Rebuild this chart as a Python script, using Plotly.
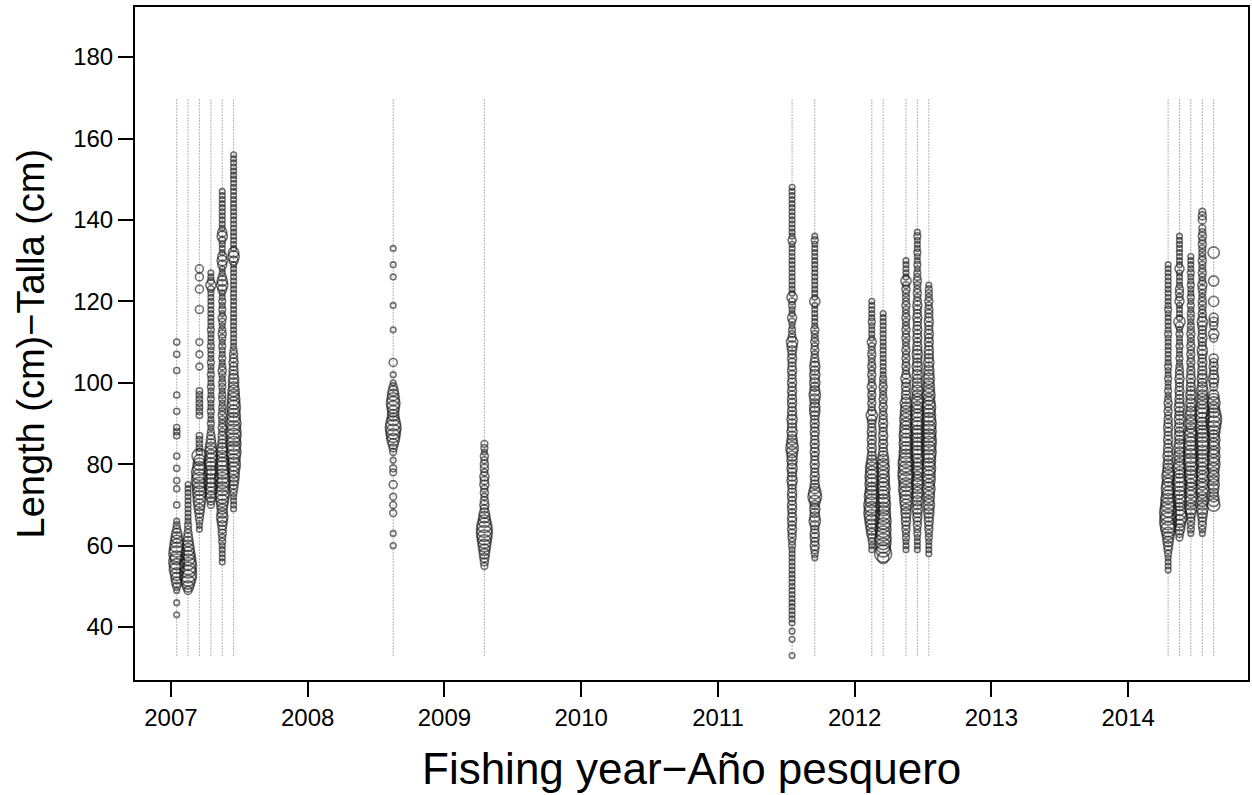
import plotly.graph_objects as go

# Sampling times (fishing year, decimal)
sample_time = [2007.042, 2007.125, 2007.208, 2007.292, 2007.375, 2007.458,
               2008.625, 2009.292,
               2011.542, 2011.708,
               2012.125, 2012.208, 2012.375, 2012.458, 2012.542,
               2014.292, 2014.375, 2014.458, 2014.542, 2014.625]

# first length (cm) of each sample's consecutive 1-cm bins
len_start = [43, 49, 64, 70, 56, 69, 60, 55, 33, 57, 59, 57, 59, 59, 58, 54, 62, 63, 63, 70]

# proportion (%) at each 1-cm length, starting at len_start
s01 = [0.7,0,0,0.7,0,0,1.1,2.2,3.6,4.4, 5.4,7.5,7.5,8.7,6.4,8.7,7.5,6.4,5.4,4.4,
       3.6,2.2,1.6,1.1,0,0,0,1.3,0,0, 0,1.3,0,1.3,0,0,1.3,0,0,1.3,
       0,0,0,0,1.3,1.3,1.3,0,0,0, 1.3,0,0,0,1.3,0,0,0,0,0, 1.3,0,0,0,1.3,0,0,1.3]
s02 = [2.2,4.4,6.4,8.7,10,8.7,10,8.7,7.5,6.4, 5.4,4.4,3.6,2.8,2.2,1.6,1.6,1.1,1.1,0.7,
       0.7,0.7,0.5,0.5,0.4,0.4,0.4]
s03 = [0.7,1.1,1.6,2.2,2.8,3.6,4.4,5.4,5.4,6.4, 6.4,7.5,8.7,7.5,8.7,6.4,5.4,4.4,7.5,1.4,
       1.4,1.4,1.4,1.4,0,0,0,0,1.4,1.4, 1.4,1.4,1.4,1.4,1.4,0,0,0,0,0,
       1.6,0,0,1.6,0,0,1.6,0,0,0, 0,0,0,0,2.2,0,0,0,0,2.2, 0,0,2.2,0,2.2]
s04 = [1.6,2.2,3.6,4.4,5.4,6.4,6.4,7.5,6.4,6.4, 5.4,6.4,5.4,5.4,4.4,3.6,2.8,2.2,1.6,1.1,
       1.6,1.1,1.1,1.6,1.1,1.1,1.6,1.1,1.1,1.6, 1.1,1.1,1.6,1.1,1.1,1.6,1.1,1.1,1.1,1.6,
       1.1,1.1,1.1,1.6,1.1,1.1,1.1,1.1,1.1,1.1, 1.1,1.1,1.1,1.6,3.6,1.6,1.1,1.1]
s05 = [0.5,0.7,0.7,1.1,1.1,1.6,1.6,2.2,2.2,2.8, 3.6,4.4,3.6,3.6,4.4,5.4,6.4,7.5,6.4,7.5,
       8.7,7.5,6.4,7.5,6.4,5.4,4.4,4.4,3.6,2.8, 2.2,2.2,1.6,2.2,1.6,1.6,2.2,1.6,1.6,1.1,
       1.6,1.6,1.1,1.6,1.6,1.1,1.6,2.2,1.6,1.1, 1.6,1.1,1.1,1.6,1.1,1.6,2.2,1.6,1.1,1.6,
       2.2,1.1,1.6,1.1,1.6,1.1,1.1,2.8,4.4,3.6, 2.2,1.1,1.1,2.8,3.6,2.8,1.1,0.7,0.7,1.6,
       3.6,2.8,1.1,0.7,0.7,0.7,1.1,0.7,0.7,1.1, 0.4,0.4]
s06 = [0.7,0.7,1.1,1.1,1.6,2.2,2.8,3.6,4.4,4.4, 5.4,6.4,5.4,6.4,7.5,6.4,7.5,6.4,7.5,7.5,
       6.4,7.5,6.4,6.4,5.4,6.4,5.4,5.4,4.4,4.4, 3.6,3.6,3.6,2.8,2.8,2.2,2.8,2.2,2.2,1.6,
       1.1,1.1,0.7,1.1,0.7,1.1,1.1,0.7,1.1,0.7, 1.1,0.7,0.7,1.1,0.7,0.7,1.1,0.7,0.7,1.1,
       1.1,2.8,4.4,3.6,1.1,0.7,0.7,1.1,0.7,0.7, 0.7,0.4,0.7,0.4,0.4,0.7,0.4,0.4,0.7,0.4,
       0.4,0.4,0.4,0.4,0.4,0.4,0.4,0.4]
s07 = [1.1,0,0,1.1,0,0,0,0,1.6,0, 1.6,0,1.6,0,0,2.2,0,0,1.6,1.6,
       0,1.1,0,1.6,2.2,3.6,5.4,6.4,7.5,8.7, 7.5,5.4,4.4,4.4,5.4,6.4,5.4,4.4,3.6,2.2,
       1.1,0,1.1,0,0,2.2,0,0,0,0, 0,0,0,0.7,0,0,0,0,0,0.7, 0,0,0,0,0,0,0.7,0,0,0.7, 0,0,0,0.7]
s08 = [1.6,2.2,2.8,3.6,4.4,5.4,6.4,7.5,8.7,8.7, 7.5,5.4,4.4,3.6,2.2,2.8,2.2,1.6,2.2,1.6,
       2.8,2.2,2.8,1.6,2.2,2.2,1.6,2.2,1.1,1.6, 1.6]
s09 = [0.5,0,0,0,0.3,0,0.3,0,0.3,0.3, 0.3,0.3,0.3,0.3,0.3,0.4,0.3,0.4,0.4,0.4,
       0.5,0.7,0.7,0.7,1.1,1.1,1.1,1.6,1.6,2.2, 2.2,2.8,2.2,2.8,2.8,2.2,2.8,2.8,2.2,2.8,
       2.8,2.2,2.8,3.6,2.8,2.8,3.6,2.8,3.6,3.6, 4.4,5.4,4.4,3.6,2.8,3.6,2.8,2.8,3.6,2.8,
       2.8,2.2,2.8,2.8,2.2,2.8,2.2,2.8,2.2,2.2, 2.8,2.2,2.2,2.8,2.2,2.8,3.6,4.4,2.2,1.6,
       1.6,1.1,1.6,2.8,1.1,1.1,1.6,1.6,3.6,1.1, 1.1,0.7,1.1,0.7,0.7,0.7,1.1,0.7,0.7,0.7,
       0.7,1.1,2.2,0.7,0.4,0.4,0.7,0.4,0.4,0.4, 0.4,0.4,0.3,0.3,0.3,0.3]
s10 = [1.1,1.6,2.2,2.8,2.2,2.8,2.8,2.2,2.8,4.4, 3.6,2.8,3.6,2.8,4.4,6.4,5.4,3.6,2.8,2.2,
       2.8,2.2,2.2,2.8,2.2,2.2,2.8,2.2,2.8,2.2, 2.2,2.8,2.2,2.8,2.2,2.8,3.6,3.6,2.8,3.6,
       4.4,3.6,2.8,3.6,2.8,3.6,2.8,3.6,2.8,2.2, 1.6,2.2,1.6,2.2,1.6,1.6,2.2,0.7,0.7,0.7,
       0.7,0.7,0.7,3.6,0.7,0.7,1.1,0.7,0.7,1.1, 0.7,0.7,1.1,0.7,0.7,1.1,1.1,0.7,1.6,0.7]
s11 = [0.7,1.1,1.6,2.2,3.6,4.4,5.4,6.4,7.5,8.7, 7.5,8.7,6.4,7.5,6.4,5.4,6.4,5.4,6.4,5.4,
       5.4,4.4,3.6,2.8,2.2,2.8,2.2,2.8,2.2,2.8, 2.2,2.2,2.8,4.4,2.2,1.6,2.2,1.6,2.2,1.6,
       2.8,1.6,1.6,2.2,1.6,2.2,1.6,1.6,2.2,1.6, 1.6,2.8,1.1,1.1,1.1,1.1,1.6,1.1,1.1,1.1,
       0.7,0.7]
s12 = [4.4,10,7.5,7.5,8.7,8.7,7.5,8.7,7.5,8.7, 7.5,7.5,6.4,7.5,6.4,6.4,5.4,6.4,5.4,5.4,
       5.4,4.4,5.4,4.4,4.4,3.6,2.8,2.2,2.8,2.2, 2.8,2.2,2.2,2.8,2.2,2.2,1.6,2.2,1.6,2.2,
       1.6,1.6,2.2,1.6,1.6,0.7,0.5,0.5,0.5,0.5, 0.5,0.5,0.5,0.5,0.7,0.5,0.5,0.5,0.7,0.5, 0.5]
s13 = [0.7,1.1,1.1,1.6,1.6,2.2,2.2,2.8,2.8,3.6, 3.6,4.4,5.4,5.4,6.4,7.5,6.4,7.5,8.7,8.7,
       7.5,8.7,7.5,6.4,6.4,5.4,6.4,5.4,6.4,5.4, 5.4,4.4,5.4,4.4,4.4,3.6,4.4,2.8,2.8,2.2,
       2.8,2.2,3.6,2.2,1.6,2.2,1.6,2.2,1.6,2.2, 1.6,1.6,2.2,1.6,2.2,1.6,1.6,2.2,1.6,1.6,
       2.2,1.6,1.6,1.6,2.2,1.6,3.6,1.1,0.7,0.7, 0.7,1.1]
s14 = [0.7,0.7,1.1,1.1,1.6,1.6,2.2,2.2,2.8,2.8, 3.6,2.8,3.6,3.6,4.4,3.6,4.4,4.4,3.6,4.4,
       5.4,4.4,5.4,6.4,5.4,6.4,5.4,6.4,6.4,5.4, 6.4,5.4,6.4,5.4,5.4,4.4,5.4,4.4,3.6,4.4,
       3.6,3.6,2.8,3.6,2.8,3.6,2.8,2.8,3.6,2.8, 2.8,2.2,2.8,2.2,2.8,2.2,2.2,2.8,2.2,2.2,
       2.8,2.2,1.6,2.2,1.6,1.6,2.2,1.6,1.6,1.1, 1.6,1.1,1.1,1.6,1.1,1.1,1.1,1.6,1.1]
s15 = [0.7,0.7,1.1,1.1,1.6,1.6,2.2,2.2,2.8,2.8, 3.6,3.6,4.4,3.6,4.4,4.4,5.4,4.4,5.4,5.4,
       5.4,6.4,5.4,6.4,6.4,7.5,6.4,7.5,7.5,6.4, 7.5,6.4,7.5,6.4,6.4,5.4,6.4,5.4,4.4,5.4,
       4.4,4.4,3.6,4.4,3.6,3.6,2.8,3.6,2.8,2.8, 2.8,2.2,2.8,2.2,2.8,2.2,2.2,2.8,2.2,2.2,
       2.2,1.6,2.2,1.6,1.6,1.6,1.1]
s16 = [0.5,0.7,0.7,1.1,1.6,2.2,2.8,3.6,4.4,5.4, 7.5,8.7,10,8.7,10,8.7,7.5,7.5,6.4,5.4,
       6.4,5.4,4.4,5.4,4.4,3.6,3.6,2.8,3.6,2.8, 2.8,2.2,2.8,2.2,2.2,2.8,2.2,2.2,1.6,2.2,
       1.6,2.2,1.6,1.1,1.6,1.1,1.1,1.6,1.1,1.1, 1.6,1.1,1.1,0.7,1.1,1.1,0.7,1.1,1.6,1.1,
       0.7,1.1,0.7,1.1,1.6,1.1,0.7,1.1,0.7,0.7, 1.1,0.7,0.7,0.7,0.4,0.4]
s17 = [1.6,2.2,3.6,4.4,5.4,7.5,6.4,5.4,4.4,5.4, 6.4,5.4,6.4,7.5,6.4,5.4,4.4,5.4,4.4,3.6,
       4.4,3.6,4.4,3.6,2.8,3.6,2.8,3.6,2.8,3.6, 2.8,2.8,3.6,2.8,2.8,2.2,2.8,2.2,2.2,2.8,
       2.2,2.2,1.6,1.1,1.6,1.1,1.1,1.6,1.1,1.1, 1.6,1.1,2.2,4.4,1.1,1.1,1.1,1.1,2.8,1.6,
       2.2,2.2,1.1,1.1,1.1,1.1,2.8,0.7,0.7,1.1, 1.1,1.1,1.1,1.1,1.1]
s18 = [1.1,1.6,1.6,2.2,2.2,3.6,4.4,3.6,4.4,5.4, 4.4,5.4,4.4,5.4,6.4,5.4,6.4,7.5,6.4,7.5,
       6.4,7.5,6.4,5.4,6.4,4.4,3.6,4.4,3.6,4.4, 3.6,2.8,3.6,2.8,3.6,2.8,2.8,2.2,2.8,2.2,
       2.2,1.6,2.2,1.6,2.2,1.6,2.2,1.6,1.6,2.2, 1.6,1.6,1.1,1.6,1.6,1.1,1.6,1.1,1.6,1.1,
       1.1,1.6,1.1,1.1,1.6,1.1,1.1,1.1,1.1]
s19 = [1.1,1.6,2.2,2.2,2.8,3.6,4.4,3.6,4.4,3.6, 4.4,5.4,4.4,5.4,4.4,5.4,4.4,5.4,6.4,5.4,
       6.4,7.5,6.4,7.5,6.4,5.4,6.4,5.4,6.4,7.5, 6.4,5.4,4.4,4.4,3.6,4.4,3.6,2.8,3.6,2.8,
       2.8,2.2,2.8,2.2,2.8,3.6,2.2,2.2,2.8,2.2, 2.2,2.8,3.6,2.2,2.2,1.6,2.2,2.2,1.6,1.6,
       2.2,2.8,1.6,1.6,2.2,1.6,1.6,2.2,1.6,1.6, 1.6,2.2,1.6,2.2,1.6,1.6,0,2.2,2.2,1.6]
s20 = [5.4,4.4,3.6,2.8,3.6,4.4,3.6,4.4,3.6,4.4, 5.4,4.4,5.4,4.4,5.4,4.4,5.4,4.4,5.4,6.4,
       7.5,8.7,7.5,5.4,4.4,5.4,4.4,3.6,0,2.2, 2.8,3.6,2.8,2.2,2.8,2.2,2.8,0,0,0,
       0,2.2,3.6,0,2.2,2.8,2.8,0,0,0, 3.6,0,0,0,0,3.6,0,0,0,0, 0,0,4.4]

props = [s01, s02, s03, s04, s05, s06, s07, s08, s09, s10,
         s11, s12, s13, s14, s15, s16, s17, s18, s19, s20]

# range of the sampling guide lines (cm)
guide_len = [33, 170]

x_ticks = [2007, 2008, 2009, 2010, 2011, 2012, 2013, 2014]
y_ticks = [40, 60, 80, 100, 120, 140, 160, 180]

FONT = "Liberation Sans, Arial, sans-serif"

fig = go.Figure()

# dotted guide lines at each sampling time
for t in sample_time:
    fig.add_trace(go.Scatter(
        x=[t, t], y=guide_len, mode="lines",
        line=dict(color="rgba(90,90,90,0.9)", width=1, dash="1px,2px"),
        hoverinfo="skip", showlegend=False))

# bubbles
xs, ys, vs = [], [], []
for t, l0, p in zip(sample_time, len_start, props):
    for i, v in enumerate(p):
        if v > 0:
            xs.append(t)
            ys.append(l0 + i)
            vs.append(v)

vmax = 10.0
dmax = 17.0
fig.add_trace(go.Scatter(
    x=xs, y=ys, mode="markers",
    marker=dict(symbol="circle-open", size=vs, sizemode="area",
                sizeref=2 * vmax / dmax ** 2, sizemin=2.8,
                color="rgba(25,25,25,0.88)", line=dict(width=1.6)),
    showlegend=False, hoverinfo="x+y"))

axis_common = dict(showline=True, linecolor="black", linewidth=2, mirror=True,
                   ticks="outside", ticklen=15, tickwidth=2, tickcolor="black",
                   showgrid=False, zeroline=False,
                   tickfont=dict(family=FONT, size=24, color="black"))

fig.update_xaxes(range=[2006.737, 2014.876], tickvals=x_ticks,
                 ticktext=[str(v) for v in x_ticks], **axis_common)
fig.update_yaxes(range=[27.0, 192.3], tickvals=y_ticks,
                 ticktext=[str(v) for v in y_ticks], **axis_common)

fig.add_annotation(text="Fishing year\u2212Año pesquero", xref="paper", yref="paper",
                   x=0.5, y=0, yanchor="middle", yshift=-88, showarrow=False,
                   font=dict(family=FONT, size=44, color="black"))
fig.add_annotation(text="Length (cm)\u2212Talla (cm)", xref="paper", yref="paper",
                   x=0, y=0.5, xanchor="center", xshift=-105, textangle=-90,
                   showarrow=False, font=dict(family=FONT, size=38, color="black"))

fig.update_layout(width=1252, height=795,
                  margin=dict(l=135, r=2, t=7, b=115),
                  paper_bgcolor="white", plot_bgcolor="white",
                  font=dict(family=FONT))

fig.write_html("out.html", config={"displayModeBar": False},
               post_script="document.body.style.margin='0';document.body.style.overflow='hidden';")
